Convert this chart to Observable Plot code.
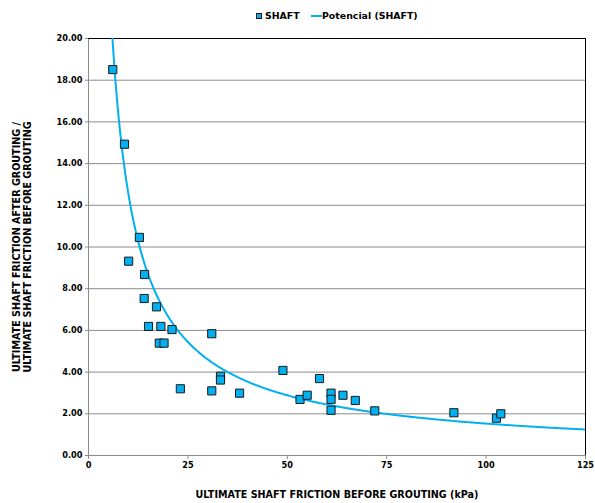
<!DOCTYPE html>
<html>
<head>
<meta charset="utf-8">
<script src="https://cdn.jsdelivr.net/npm/d3@7"></script>
<script src="https://cdn.jsdelivr.net/npm/@observablehq/plot@0.6"></script>
<style>
  body { margin: 0; background: #fff; font-family: "DejaVu Sans", Verdana, sans-serif; }
  #legend { position: relative; height: 30px; width: 595px; font-weight: bold; font-size: 9.4px; color: #000; }
  #legend .sq { position: absolute; left: 256px; top: 13px; width: 4px; height: 4px; background: #00B0F0; border: 1px solid #1a1a1a; }
  #legend .ln { position: absolute; left: 311px; top: 15px; width: 11px; height: 2px; background: #00B0F0; }
  #legend .t { position: absolute; top: 10px; line-height: 11px; white-space: nowrap; }
</style>
</head>
<body>
<div id="legend"></div>
<div id="chart"></div>
<script>
// ---- data ----
const seriesName = "SHAFT";
const trendName = "Potencial (SHAFT)";
const shaftX = [6.1, 9.05, 12.8, 10.1, 14.1, 14.0, 17.1, 15.1, 18.2, 21.0, 17.8, 19.0, 31.0, 33.2, 33.2, 23.1, 31.0, 38.0, 48.9, 58.1, 53.2, 55.0, 61.0, 61.0, 61.0, 64.0, 67.1, 72.0, 91.9, 102.6, 103.7];
const shaftY = [18.51, 14.93, 10.46, 9.32, 8.68, 7.53, 7.13, 6.19, 6.19, 6.04, 5.39, 5.39, 5.84, 3.80, 3.62, 3.20, 3.10, 2.99, 4.08, 3.69, 2.69, 2.89, 2.99, 2.69, 2.17, 2.89, 2.64, 2.14, 2.05, 1.79, 2.00];
// power trendline y = a * x^b, coefficients
const trendA = 103.5;
const trendB = -0.915;
const xTicks = [0, 25, 50, 75, 100, 125];
const yTicks = [0, 2, 4, 6, 8, 10, 12, 14, 16, 18, 20];
const xTitle = "ULTIMATE SHAFT FRICTION BEFORE GROUTING (kPa)";
const yTitleLines = ["ULTIMATE SHAFT FRICTION AFTER GROUTING /", "ULTIMATE SHAFT FRICTION BEFORE GROUTING"];

const points = shaftX.map((x, i) => ({x, y: shaftY[i]}));
const trend = d3.range(5, 125.01, 0.25).map(x => ({x, y: trendA * Math.pow(x, trendB)}));

// legend
const lg = document.getElementById("legend");
lg.innerHTML = `<div class="sq"></div><div class="t" style="left:265px">${seriesName}</div>` +
  `<div class="ln"></div><div class="t" style="left:322px">${trendName}</div>`;

const blue = "#00B0F0";
const grid = "#8c8c8c";

const chart = Plot.plot({
  width: 595,
  height: 473,
  marginLeft: 88,
  marginRight: 10,
  marginTop: 8,
  marginBottom: 48,
  style: {fontFamily: "'DejaVu Sans', Verdana, sans-serif", fontSize: "8.2px", fontWeight: "bold", background: "#fff", color: "#000"},
  x: {domain: [0, 125], axis: null},
  y: {domain: [0, 20], axis: null},
  marks: [
    Plot.ruleY(yTicks.filter(d => d > 0 && d < 20), {stroke: grid, strokeWidth: 1}),
    Plot.axisX({ticks: xTicks, tickFormat: d => String(d), tickSize: 4, tickPadding: 3, stroke: grid, fill: "#000", label: null}),
    Plot.axisY({ticks: yTicks, tickFormat: d => d.toFixed(2), tickSize: 3, tickPadding: 3, stroke: grid, fill: "#000", label: null}),
    Plot.ruleX([0], {stroke: grid}),
    Plot.ruleY([0], {stroke: grid}),
    Plot.ruleY([20], {stroke: "#000"}),
    Plot.ruleX([125], {stroke: "#000"}),
    Plot.line(trend, {x: "x", y: "y", stroke: blue, strokeWidth: 2, clip: true}),
    Plot.dot(points, {x: "x", y: "y", symbol: "square", r: 4.6, fill: blue, stroke: "#1a1a1a", strokeWidth: 1}),
    Plot.text([xTitle], {text: d => d, frameAnchor: "bottom", dy: 42, fontSize: 9.6, fontWeight: "bold", fill: "#000"}),
    Plot.text([yTitleLines[0]], {text: d => d, frameAnchor: "left", textAnchor: "middle", dx: -72, rotate: -90, fontSize: 9.6, fontWeight: "bold", fill: "#000"}),
    Plot.text([yTitleLines[1]], {text: d => d, frameAnchor: "left", textAnchor: "middle", dx: -61, rotate: -90, fontSize: 9.6, fontWeight: "bold", fill: "#000"})
  ]
});
document.getElementById("chart").appendChild(chart);
</script>
</body>
</html>
